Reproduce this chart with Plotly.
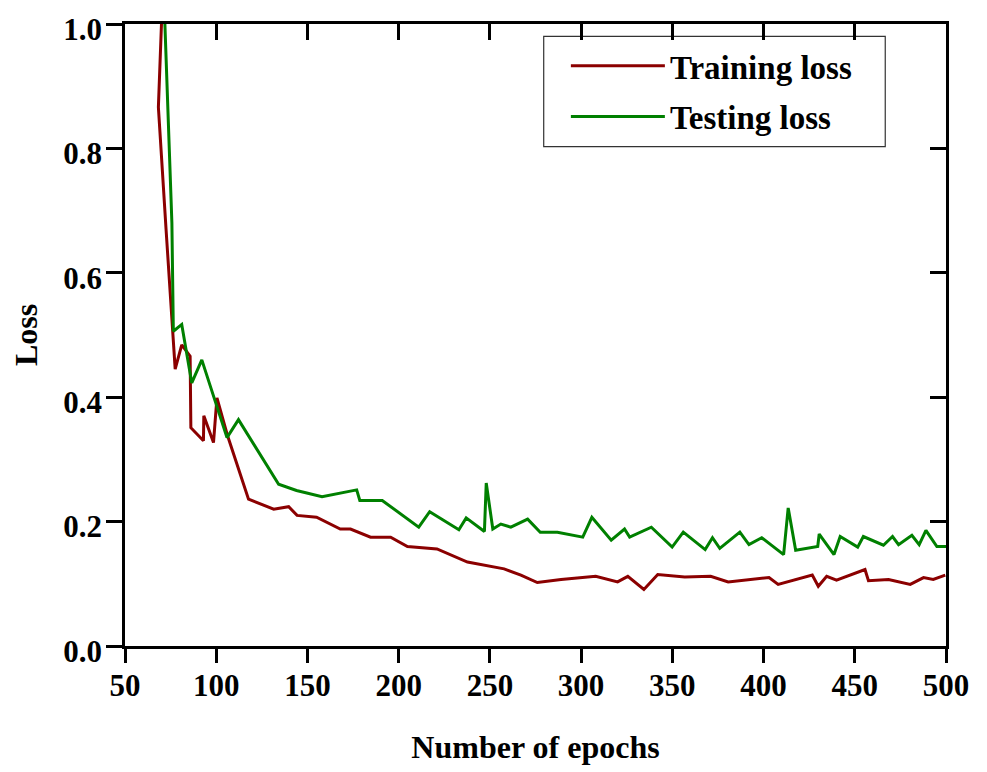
import plotly.graph_objects as go

train_epochs = [71.0, 68.3, 72.5, 77.5, 81.1, 85.7, 86.1, 93.0, 93.2, 98.5, 100.4, 106.0,
                117.7, 131.5, 139.7, 144.3, 155.0, 168.0, 173.6, 184.6, 195.6, 204.8,
                221.0, 237.7, 257.8, 267.0, 276.0, 289.0, 308.0, 320.0, 325.6, 334.4,
                342.0, 356.8, 371.0, 380.6, 403.0, 408.0, 426.7, 430.0, 434.6, 440.0,
                455.6, 457.5, 468.5, 480.4, 487.7, 493.0, 499.6]
train_loss = [1.08, 0.866, 0.67, 0.445, 0.484, 0.466, 0.351, 0.33, 0.37, 0.327, 0.399, 0.34,
              0.236, 0.22, 0.224, 0.21, 0.207, 0.188, 0.188, 0.175, 0.175, 0.16,
              0.156, 0.135, 0.124, 0.114, 0.102, 0.107, 0.112, 0.103, 0.112, 0.091,
              0.115, 0.111, 0.112, 0.103, 0.11, 0.099, 0.114, 0.096, 0.112, 0.106,
              0.123, 0.105, 0.107, 0.099, 0.11, 0.107, 0.114]

test_epochs = [71.5, 75.7, 76.5, 81.1, 86.6, 92.1, 105.9, 112.2, 134.2, 144.0, 158.0,
               177.0, 178.7, 191.0, 211.0, 217.0, 233.0, 237.0, 247.0, 248.0, 251.6,
               256.0, 261.5, 270.7, 277.6, 287.0, 300.9, 305.9, 316.5, 323.8, 326.6,
               338.5, 349.9, 356.0, 368.0, 372.0, 376.0, 387.0, 392.0, 399.0, 411.0,
               413.5, 417.6, 429.7, 430.5, 438.6, 442.0, 451.6, 454.7, 465.7, 470.7,
               474.0, 481.3, 485.3, 489.0, 495.0, 500.0]
test_loss = [1.03, 0.68, 0.506, 0.517, 0.423, 0.46, 0.335, 0.364, 0.26, 0.25, 0.24,
             0.251, 0.234, 0.234, 0.191, 0.216, 0.187, 0.206, 0.184, 0.262, 0.188,
             0.196, 0.191, 0.204, 0.183, 0.183, 0.175, 0.207, 0.17, 0.188, 0.175,
             0.191, 0.159, 0.183, 0.155, 0.174, 0.157, 0.183, 0.163, 0.174, 0.147,
             0.222, 0.154, 0.16, 0.18, 0.147, 0.176, 0.159, 0.176, 0.162, 0.176,
             0.163, 0.178, 0.163, 0.186, 0.16, 0.16]

x_ticks = [50, 100, 150, 200, 250, 300, 350, 400, 450, 500]
y_ticks = [0.0, 0.2, 0.4, 0.6, 0.8, 1.0]
y_tick_labels = ["0.0", "0.2", "0.4", "0.6", "0.8", "1.0"]

FONT = "Liberation Serif, Times New Roman, serif"

fig = go.Figure()
fig.add_trace(go.Scatter(x=train_epochs, y=train_loss, mode="lines", name="<b>Training loss</b>",
                         legendgroup="a", line=dict(color="#8B0000", width=3)))
fig.add_trace(go.Scatter(x=test_epochs, y=test_loss, mode="lines", name="<b>Testing loss</b>",
                         legendgroup="b", line=dict(color="#008000", width=3)))
# helper trace to activate mirrored axes (top/right inside ticks)
fig.add_trace(go.Scatter(x=[None], y=[None], xaxis="x2", yaxis="y2", showlegend=False,
                         hoverinfo="skip"))

axis_common = dict(showgrid=False, zeroline=False, showline=True, linecolor="black",
                   linewidth=2.5, tickcolor="black", tickwidth=2.5, automargin=False,
                   ticklabeloverflow="allow",
                   tickfont=dict(family=FONT, size=31, color="black"))

fig.update_layout(
    width=987, height=772,
    margin=dict(l=117, r=49, t=16, b=134, pad=0),
    paper_bgcolor="white", plot_bgcolor="white",
    font=dict(family=FONT, size=31, color="black"),
    xaxis=dict(range=[50, 500], tickvals=x_ticks, ticktext=["<b>%d</b>" % v for v in x_ticks],
               ticks="outside", ticklen=14, ticklabelstandoff=-4,
               title=dict(text="<b>Number of epochs</b>", font=dict(family=FONT, size=32), standoff=34),
               **axis_common),
    yaxis=dict(range=[0, 1.0], tickvals=y_ticks, ticktext=["<b>%s</b>" % t for t in y_tick_labels],
               ticks="outside", ticklen=16, ticklabelstandoff=-2, ticklabelshift=5,
               title=dict(text="<b>Loss</b>", font=dict(family=FONT, size=32), standoff=29),
               **axis_common),
    xaxis2=dict(range=[50, 500], tickvals=x_ticks, ticks="inside", ticklen=16, overlaying="x",
                side="top", anchor="y2", showticklabels=False, **axis_common),
    yaxis2=dict(range=[0, 1.0], tickvals=y_ticks, ticks="inside", ticklen=16, overlaying="y",
                side="right", anchor="x2", showticklabels=False, **axis_common),
    legend=dict(x=0.537, y=0.978, xanchor="left", yanchor="top",
                bgcolor="rgba(0,0,0,0)", borderwidth=0,
                itemwidth=94, font=dict(family=FONT, size=33, color="black"),
                tracegroupgap=5),
    showlegend=True,
    shapes=[dict(type="rect", xref="paper", yref="paper", x0=0.510, x1=0.926, y0=0.803, y1=0.980,
                 line=dict(color="#333333", width=1.2), fillcolor="rgba(0,0,0,0)", layer="below")],
)

fig.write_html("out.html")
